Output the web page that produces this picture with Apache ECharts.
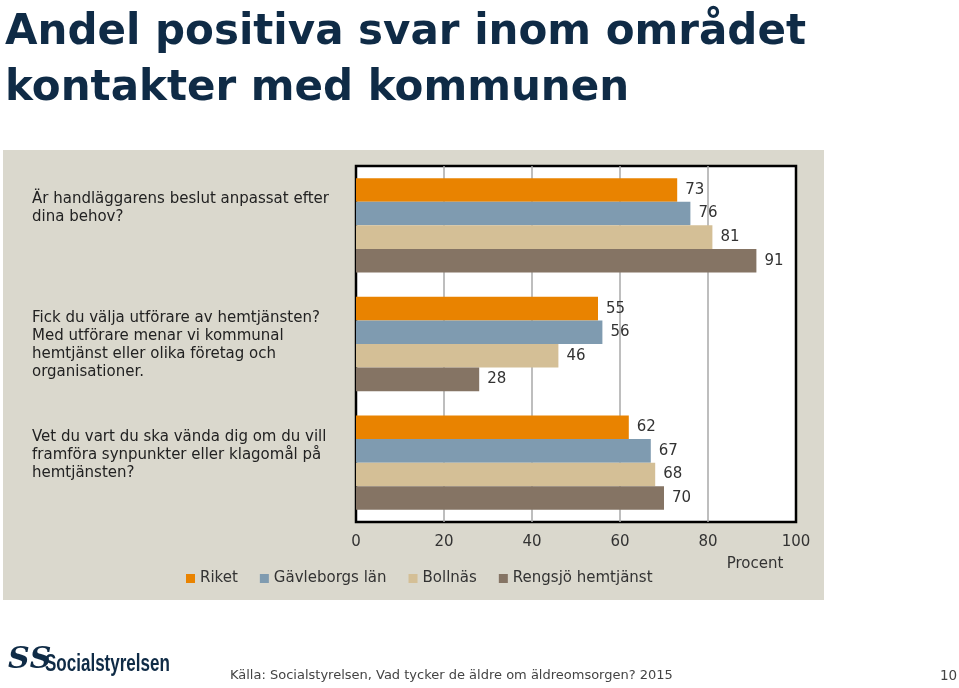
<!DOCTYPE html>
<html><head><meta charset="utf-8">
<script src="https://cdn.jsdelivr.net/npm/echarts@6/dist/echarts.min.js"></script>
<style>html,body{margin:0;padding:0;background:#fff}#c{width:959px;height:688px}</style>
</head><body><div id="c"></div>
<script>
const categories = [
  "Är handläggarens beslut anpassat efter\ndina behov?",
  "Fick du välja utförare av hemtjänsten?\nMed utförare menar vi kommunal\nhemtjänst eller olika företag och\norganisationer.",
  "Vet du vart du ska vända dig om du vill\nframföra synpunkter eller klagomål på\nhemtjänsten?"
];
const seriesNames = ["Riket", "Gävleborgs län", "Bollnäs", "Rengsjö hemtjänst"];
const riket = [73, 55, 62];
const gavleborg = [76, 56, 67];
const bollnas = [81, 46, 68];
const rengsjo = [91, 28, 70];
const xTicks = [0, 20, 40, 60, 80, 100];
const colors = ["#e98300", "#7f9bb0", "#d4bf96", "#857464"];

const FONT = "DejaVu Sans";
const values = [riket, gavleborg, bollnas, rengsjo];
const chart = echarts.init(document.getElementById('c'));
chart.setOption({
  animation: false,
  backgroundColor: '#ffffff',
  textStyle: { fontFamily: FONT },
  title: {
    text: "Andel positiva svar inom området\nkontakter med kommunen",
    left: 0, top: 0,
    textStyle: { fontFamily: FONT, fontSize: 42, fontWeight: 'bold', lineHeight: 56, color: '#0f2b46' }
  },
  graphic: [
    { type: 'rect', z: -10, shape: { x: 3, y: 150, width: 821, height: 450 }, style: { fill: '#dad8cd' } },
    { type: 'text', x: 8, y: 645, style: { text: 'ЅЅ', font: 'bold italic 30px "DejaVu Serif"', fill: '#0f2b46' } },
    { type: 'text', x: 45, y: 653, scaleX: 0.74, style: { text: 'Socialstyrelsen', font: 'bold 23px "Liberation Sans"', fill: '#0f2b46' } },
    { type: 'text', x: 230, y: 669, style: { text: 'Källa: Socialstyrelsen, Vad tycker de äldre om äldreomsorgen? 2015', font: '13px "' + FONT + '"', fill: '#444' } },
    { type: 'text', x: 940, y: 669, style: { text: '10', font: '13.5px "' + FONT + '"', fill: '#444' } }
  ],
  legend: {
    data: seriesNames,
    left: 186, top: 571, padding: 0,
    icon: 'rect', itemWidth: 9, itemHeight: 9, itemGap: 22,
    textStyle: { fontFamily: FONT, fontSize: 15, color: '#333' }
  },
  grid: [
    { left: 356, right: 163, top: 166, bottom: 166,
      show: true, backgroundColor: '#ffffff', borderColor: '#000000', borderWidth: 2.5 },
    { left: 356, right: 163, top: 131, bottom: 201, show: false }
  ],
  xAxis: [{
    type: 'value', min: 0, max: 100, interval: 20, gridIndex: 0,
    axisLine: { show: false }, axisTick: { show: false },
    splitLine: { show: true, showMinLine: false, showMaxLine: false, lineStyle: { color: '#a8a8a8', width: 1.5 } },
    axisLabel: { margin: 13, fontSize: 15, color: '#333', fontFamily: FONT,
      formatter: v => xTicks.includes(v) ? String(v) : '' },
    name: 'Procent', nameLocation: 'end', nameGap: -41,
    nameTextStyle: { fontFamily: FONT, fontSize: 15, color: '#333', align: 'center', verticalAlign: 'top', padding: [35, 0, 0, 0] }
  }, {
    type: 'value', min: 0, max: 100, gridIndex: 1, show: false
  }],
  yAxis: [{
    type: 'category', data: categories, inverse: true, gridIndex: 0,
    axisLine: { show: false }, axisTick: { show: false }, axisLabel: { show: false }
  }, {
    type: 'category', data: categories, inverse: true, gridIndex: 1,
    axisLine: { show: false }, axisTick: { show: false }, splitLine: { show: false },
    axisLabel: { align: 'left', margin: 324, fontSize: 15, lineHeight: 18, color: '#222', fontFamily: FONT,
      verticalAlign: 'top' }
  }],
  series: seriesNames.map((n, i) => ({
    name: n, type: 'bar', data: values[i], xAxisIndex: 0, yAxisIndex: 0,
    barGap: '0%', barCategoryGap: '20.5%',
    itemStyle: { color: colors[i] },
    label: { show: true, position: 'right', distance: 8, fontSize: 15, color: '#333', fontFamily: FONT }
  }))
});
</script></body></html>
